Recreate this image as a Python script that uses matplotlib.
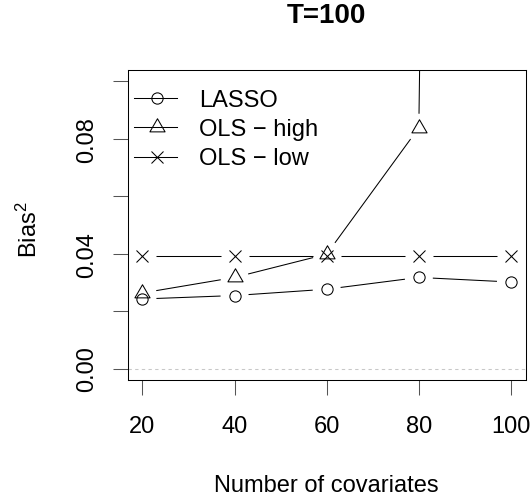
import numpy as np
import matplotlib
matplotlib.use("Agg")
import matplotlib.pyplot as plt
from matplotlib.path import Path

plt.rcParams['font.family'] = ['Liberation Sans', 'DejaVu Sans']
plt.rcParams['mathtext.fontset'] = 'custom'
plt.rcParams['mathtext.rm'] = 'Liberation Sans'
plt.rcParams['mathtext.it'] = 'Liberation Sans:italic'
plt.rcParams['lines.scale_dashes'] = False

# data
covariates = [20, 40, 60, 80, 100]
lasso = [0.0242, 0.0254, 0.0276, 0.0317, 0.0301]
ols_high = [0.0263, 0.0317, 0.0398, 0.0838, 2.5]   # last one is far off the top
ols_low = [0.0392, 0.0392, 0.0392, 0.0392, 0.0392]

series_names = ["LASSO", "OLS \u2212 high", "OLS \u2212 low"]
yticks = [0.00, 0.02, 0.04, 0.06, 0.08, 0.10]
ytick_labels = ["0.00", "", "0.04", "", "0.08", ""]

W, H = 530, 502
fig = plt.figure(figsize=(W / 100, H / 100), dpi=100)
ax = fig.add_axes([127.7 / W, 1 - 381 / H, (525.7 - 127.7) / W, (381 - 70.7) / H])

ax.set_xlim(16.8, 103.2)
ax.set_ylim(-0.004, 0.104)

# R style triangle (pch = 2)
tri = Path([(0, 1.555), (1.3468, -0.7776), (-1.3468, -0.7776), (0, 1.555)],
           [Path.MOVETO, Path.LINETO, Path.LINETO, Path.CLOSEPOLY])
markers = [('o', 8.1), (tri, 12.6), ('x', 9.1)]
lw = 0.75


def gapped(xs, ys, gap=14):
    # type="b" in R: segments stop short of each point
    pts = ax.transData.transform(np.column_stack([xs, ys]))
    inv = ax.transData.inverted()
    for p, q in zip(pts[:-1], pts[1:]):
        d = q - p
        L = np.hypot(*d)
        if L <= 2 * gap:
            continue
        u = d / L
        a = inv.transform(p + u * gap)
        b = inv.transform(q - u * gap)
        ax.plot([a[0], b[0]], [a[1], b[1]], color='black', lw=lw, solid_capstyle='butt')


ax.axhline(0, color='#c8c8c8', lw=lw, dashes=(2.4, 2.4))

for ys, (m, ms) in zip([lasso, ols_high, ols_low], markers):
    gapped(covariates, ys)
    ax.plot(covariates, ys, linestyle='none', marker=m, markersize=ms,
            markerfacecolor='none', markeredgecolor='black', markeredgewidth=lw)

ax.set_xticks(covariates)
ax.set_xticklabels([str(c) for c in covariates])
ax.set_yticks(yticks)
ax.set_yticklabels(ytick_labels, rotation=90, va='center')
ax.tick_params(direction='out', length=10.5, width=lw, color='#555555',
               labelsize=17, labelcolor='black')
ax.tick_params(axis='x', pad=15)
ax.tick_params(axis='y', pad=10.5)
for s in ax.spines.values():
    s.set_linewidth(lw)
    s.set_color('black')

# legend without box, drawn in pixel positions
rows = [99.3, 128.3, 157.7]
for name, y, (m, ms) in zip(series_names, rows, markers):
    fy = 1 - y / H
    ax.plot([134 / W, 177.3 / W], [fy, fy], color='black', lw=lw,
            transform=fig.transFigure, clip_on=False)
    ax.plot([157.3 / W], [fy], linestyle='none', marker=m, markersize=ms,
            markerfacecolor='none', markeredgecolor='black', markeredgewidth=lw,
            transform=fig.transFigure, clip_on=False)
    fig.text(199.3 / W, 1 - (y + 7.5) / H, name, fontsize=17, va='baseline', ha='left')

fig.text(326.7 / W, 1 - 23 / H, "T=100", fontsize=20, fontweight='bold',
         ha='center', va='baseline')
fig.text(326.7 / W, 1 - 492 / H, "Number of covariates", fontsize=17,
         ha='center', va='baseline')
fig.text(36.7 / W, 1 - 230 / H, "Bias$^2$", fontsize=17, rotation=90,
         rotation_mode='anchor', ha='center', va='baseline')

fig.savefig("out.png", dpi=100)
